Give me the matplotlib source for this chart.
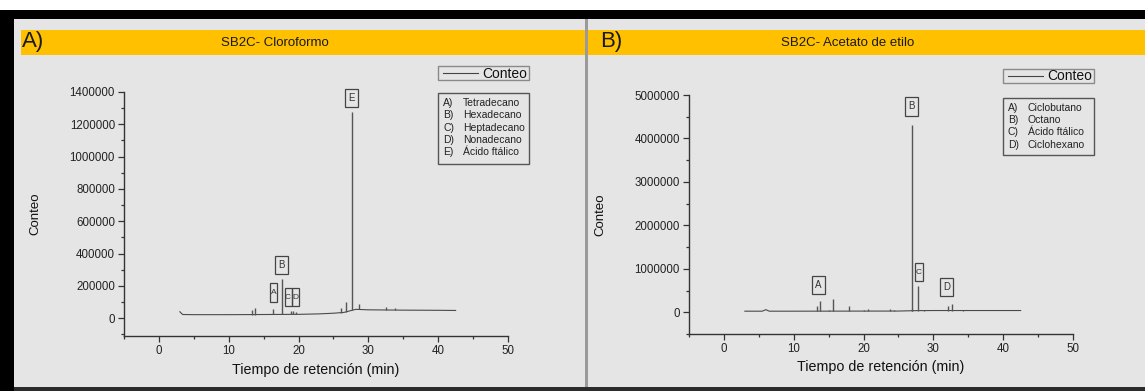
import numpy as np
import matplotlib.pyplot as plt
from matplotlib.patches import Rectangle
from matplotlib.colors import LinearSegmentedColormap
from matplotlib.transforms import ScaledTranslation
from matplotlib.ticker import MultipleLocator, FormatStrFormatter

# ==========================
# Datos (leídos del cromatograma)
# ==========================
# Panel A: SB2C- Cloroformo
base_a_t = [3.0, 3.4, 5, 10, 15, 20, 23, 25, 26.5, 28.2, 30, 35, 40, 42.5]
base_a_y = [40000, 23000, 22000, 22000, 23000, 24000, 27000, 31000, 36000, 55000, 52000, 50000, 49000, 48000]
peaks_a_t = [13.4, 13.7, 16.4, 17.6, 18.9, 19.2, 19.6, 26.1, 26.8, 27.7, 28.6, 32.5, 33.8]
peaks_a_h = [52000, 66000, 57000, 240000, 42000, 45000, 40000, 62000, 99000, 1275000, 85000, 68000, 65000]
labels_a = ["A", "B", "C", "D", "E"]
labels_a_t = [16.4, 17.5, 18.5, 19.5, 27.6]
labels_a_y = [158000, 328000, 130000, 130000, 1362000]
compuestos_a = ["Tetradecano", "Hexadecano", "Heptadecano", "Nonadecano", "Ácido ftálico"]

# Panel B: SB2C- Acetato de etilo
base_b_t = [3.0, 5.5, 6.0, 6.5, 10, 15, 20, 25, 27.5, 30, 35, 40, 42.5]
base_b_y = [25000, 25000, 60000, 25000, 25000, 26000, 27000, 28000, 38000, 40000, 40000, 40000, 40000]
peaks_b_t = [13.4, 13.7, 15.0, 15.6, 17.9, 20.0, 20.7, 23.8, 24.3, 26.9, 27.0, 27.8, 28.7, 32.1, 32.7, 34.3]
peaks_b_h = [138000, 253000, 61000, 315000, 138000, 55000, 70000, 70000, 45000, 80000, 4317000, 598000, 60000, 138000, 184000, 50000]
labels_b = ["A", "B", "C", "D"]
labels_b_t = [13.5, 26.8, 27.95, 31.9]
labels_b_y = [621000, 4738000, 920000, 582000]
compuestos_b = ["Ciclobutano", "Octano", "Ácido ftálico", "Ciclohexano"]

letras = ["A)", "B)", "C)", "D)", "E)"]

# ancho de las cajas de las letras (px), estilo
cajas_a = [7, 13, 7, 7, 13]
cajas_b = [13, 13, 8, 13]

plt.rcParams["font.family"] = ["Liberation Sans", "DejaVu Sans"]

W, H = 1145, 391
fig = plt.figure(figsize=(W / 100, H / 100), dpi=100)
fig.patch.set_facecolor("white")

# fondo en pixeles
bg = fig.add_axes([0, 0, 1, 1], zorder=-1)
bg.axis("off")

gris = "#e5e5e5"
bg.add_patch(Rectangle((14, 18), W - 14, H - 18, color=gris, lw=0))
sombra = LinearSegmentedColormap.from_list("s", ["#7a7a7a", gris])
bg.imshow(np.linspace(0, 1, 30).reshape(-1, 1), cmap=sombra, extent=(14, W, 30, 18), aspect="auto")
bg.imshow(np.linspace(0, 1, 30).reshape(1, -1), cmap=sombra, extent=(14, 21, H, 18), aspect="auto")
bg.add_patch(Rectangle((0, 10), W, 8.5, color="black", lw=0))
bg.add_patch(Rectangle((0, 10), 14, H - 10, color="black", lw=0))
bg.add_patch(Rectangle((14, 387), W - 14, 4, color="#2b2b2b", lw=0))
bg.add_patch(Rectangle((585, 19), 2.5, 368, color="#9a9a9a", lw=0))

naranja = "#ffc000"
bg.add_patch(Rectangle((21, 30), 564, 25, color=naranja, lw=0))
bg.add_patch(Rectangle((588, 30), W - 588, 25, color=naranja, lw=0))
bg.set_xlim(0, W)
bg.set_ylim(H, 0)

bg.text(22, 41, "A)", fontsize=16, va="center", ha="left", color="#1a1a1a")
bg.text(600, 41, "B)", fontsize=16, va="center", ha="left", color="#1a1a1a")
bg.text(275, 43, "SB2C- Cloroformo", fontsize=9.5, va="center", ha="center", color="#1a1a1a")
bg.text(848, 43, "SB2C- Acetato de etilo", fontsize=9.5, va="center", ha="center", color="#1a1a1a")


def leyenda(x0, y0, w, lista, y1, h1, paso):
    # caja "Conteo"
    bg.add_patch(Rectangle((x0, y0), w, 14, fill=False, ec="#8a8a8a", lw=1.0))
    bg.plot([x0 + 5, x0 + 40], [y0 + 7, y0 + 7], color="#444", lw=0.8)
    bg.text(x0 + w - 2, y0 + 7.5, "Conteo", fontsize=10, ha="right", va="center", color="#111")
    # caja de compuestos
    bg.add_patch(Rectangle((x0, y1), w, h1, fill=False, ec="#555", lw=1.0))
    for i, nombre in enumerate(lista):
        yy = y1 + 10 + i * paso
        bg.text(x0 + 5, yy, letras[i], fontsize=7.5, va="center", ha="left", color="#222")
        bg.text(x0 + 25, yy, nombre, fontsize=7.5, va="center", ha="left", color="#222")


leyenda(438, 66, 91, compuestos_a, 93, 71, 12.3)
leyenda(1003, 69, 91, compuestos_b, 98, 57, 12.2)


# ==========================
# Cromatogramas
# ==========================
def panel(rect, bt, by, pt, ph, lt, lx, ly, anchos, ymax, ystep, ymin):
    l, t, r, b = rect
    ax = fig.add_axes([l / W, 1 - b / H, (r - l) / W, (b - t) / H])
    ax.patch.set_alpha(0)
    ax.plot(bt, by, color="#4a4a4a", lw=0.8)
    base = np.interp(pt, bt, by)
    ax.vlines(pt, base, ph, color="#555555", lw=1.0)
    for txt, x, y, wpx in zip(lt, lx, ly, anchos):
        tr = fig.dpi_scale_trans + ScaledTranslation(x, y, ax.transData)
        ax.add_patch(Rectangle((-wpx / 200, -0.092), wpx / 100, 0.184, transform=tr,
                               fill=False, ec="#444", lw=0.9, clip_on=False))
        ax.text(x, y, txt, fontsize=7 if wpx > 10 else 6, ha="center", va="center", color="#333")
    ax.set_xlim(-5, 50)
    ax.set_ylim(ymin, ymax)
    for s in ["top", "right"]:
        ax.spines[s].set_visible(False)
    for s in ["left", "bottom"]:
        ax.spines[s].set_color("#333")
        ax.spines[s].set_linewidth(1.0)
    ax.xaxis.set_major_locator(MultipleLocator(10))
    ax.xaxis.set_minor_locator(MultipleLocator(5))
    ax.yaxis.set_major_locator(MultipleLocator(ystep))
    ax.yaxis.set_minor_locator(MultipleLocator(ystep / 2))
    ax.yaxis.set_major_formatter(FormatStrFormatter("%d"))
    ax.tick_params(which="major", length=4.5, width=0.9, color="#333", labelsize=8.3, labelcolor="#222", pad=2)
    ax.tick_params(which="minor", length=2.5, width=0.9, color="#333")
    ax.set_xlabel("Tiempo de retención (min)", fontsize=10.3, color="#111")
    ax.set_ylabel("Conteo", fontsize=9.5, color="#111")
    ax.xaxis.set_label_coords(0.5, -0.11)
    ax.yaxis.set_label_coords(-0.215, 0.5)
    return ax


panel((124, 92, 508, 336), base_a_t, base_a_y, peaks_a_t, peaks_a_h,
      labels_a, labels_a_t, labels_a_y, cajas_a, 1400000, 200000, -110000)
panel((689, 95, 1073, 334), base_b_t, base_b_y, peaks_b_t, peaks_b_h,
      labels_b, labels_b_t, labels_b_y, cajas_b, 5000000, 1000000, -500000)

plt.savefig("out.png", dpi=100)
plt.close()
